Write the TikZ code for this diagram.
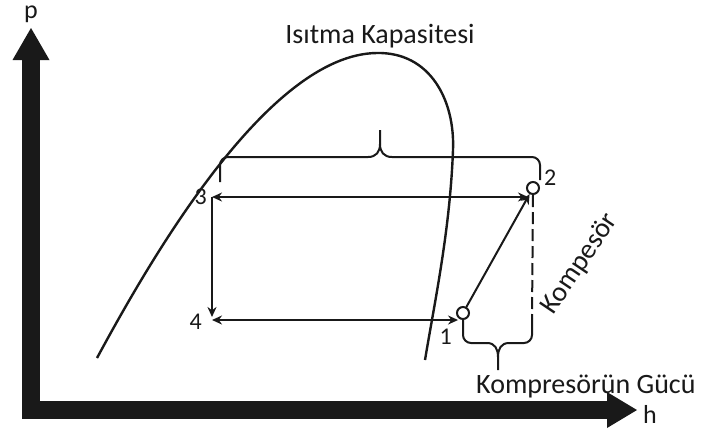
\documentclass[tikz,border=0pt]{standalone}
\usepackage{fontspec}
\setmainfont{Carlito}
\usetikzlibrary{arrows.meta, positioning}
\definecolor{colLine}{RGB}{25,25,25}
\tikzset{
  axis/.style={
    draw=colLine, line width=18pt, line join=miter,
    {Triangle[length=32pt,width=37pt,line width=0pt]}-{Triangle[length=30pt,width=36pt,line width=0pt]}
  },
  dome/.style={draw=colLine, line width=2.4pt},
  cyc/.style={draw=colLine, line width=2pt},
  arr/.style={cyc, -{Stealth[length=10pt,width=9pt]}},
  darr/.style={cyc, {Stealth[length=10pt,width=9pt]}-{Stealth[length=10pt,width=9pt]}},
  brace/.style={cyc, rounded corners=8pt},
  dashline/.style={cyc, dash pattern=on 12pt off 5pt},
  state/.style={circle, draw=colLine, line width=2pt, fill=white, minimum size=12pt, inner sep=0pt},
  lbl/.style={font=\fontsize{28}{30}\selectfont, text=colLine, inner sep=1pt},
  axlbl/.style={font=\fontsize{26}{28}\selectfont, text=colLine, inner sep=1pt},
  num/.style={font=\fontsize{24}{26}\selectfont, text=colLine, inner sep=1pt},
}

\begin{document}
\begin{tikzpicture}[x=1pt, y=-1pt]
\useasboundingbox (0,0) rectangle (707,432);

% ---- Axes ------------------------------------------------------
\coordinate (orig) at (31,410);
\coordinate (pTip) at (31,28);
\coordinate (hTip) at (637,410);
\draw[axis] (pTip) -- (orig) -- (hTip);
\node[axlbl, above=4pt of pTip] (pLbl) {p};
\node[axlbl, right=5pt of hTip, yshift=-4pt] (hLbl) {h};

% ---- Saturation dome -------------------------------------------
\coordinate (peak) at (377,53);
\draw[dome] (97,358) .. controls (150,260) and (268,54) .. (peak)
  .. controls (430,52) and (455,100) .. (453,150)
  .. controls (450,230) and (435,300) .. (425,360);
\node[lbl, above=4pt of peak, xshift=3pt] (cap) {Isıtma Kapasitesi};

% ---- Cycle states ----------------------------------------------
\node[state] (s2) at (533,188) {};
\node[state] (s1) at (463,313) {};
\coordinate (s3) at (212,197);
\coordinate (s4) at (212,320);

\node[num, right=3pt of s2, yshift=10pt] (l2) {2};
\node[num, below left=10pt and 5pt of s1] (l1) {1};
\node[num, left=4pt of s3] (l3) {3};
\node[num, left=9pt of s4, yshift=-2pt] (l4) {4};

% ---- Cycle lines -----------------------------------------------
\draw[darr] (s3) -- (s3 -| s2.south west);
\draw[arr, shorten >=3pt] (s3) -- (s4);
\draw[darr] (s4) -- (s4 -| s1.south west);
\draw[arr] (s1) -- (s2);

\coordinate (kR) at (532,318);
\draw[dashline] (s2.south) -- (kR);

% ---- Braces ----------------------------------------------------
\draw[brace] (220,182) |- (368,157);
\draw[brace] (540,180) |- (392,157);
\draw[cyc] (368,157) .. controls (376,157) and (380,152) .. (380,144) -- (380,130);
\draw[cyc] (392,157) .. controls (384,157) and (380,152) .. (380,144);

\draw[brace] (s1.south) |- (487,343);
\draw[brace] (kR) |- (509,343);
\draw[cyc] (487,343) .. controls (495,343) and (498,349) .. (498,357) -- (498,370);
\draw[cyc] (509,343) .. controls (501,343) and (498,349) .. (498,357);

% ---- Texts -----------------------------------------------------
\node[lbl, anchor=base west] (guc) at (475,393) {Kompresörün Gücü};
\node[lbl, rotate=56] (komp) at (580,264) {Kompesör};

\end{tikzpicture}
\end{document}
